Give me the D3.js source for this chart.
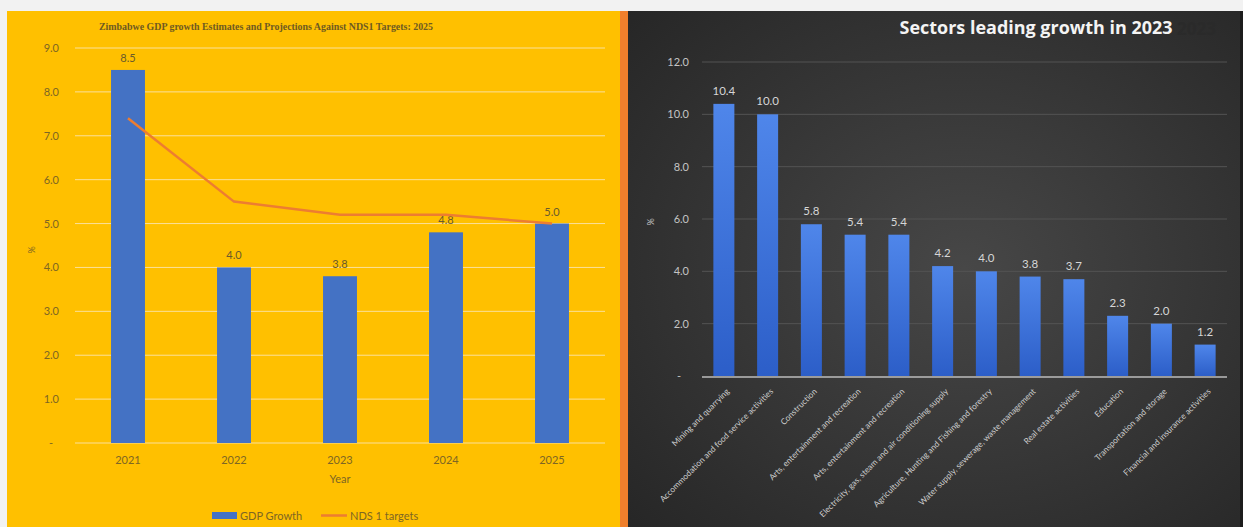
<!DOCTYPE html>
<html>
<head>
<meta charset="utf-8">
<script src="https://cdn.jsdelivr.net/npm/d3@7"></script>
<style>
  html, body { margin: 0; padding: 0; background: #f2f2f2; }
  svg { display: block; }
</style>
</head>
<body>
<div id="chart"></div>
<script>
// ---- data: left panel (GDP growth vs NDS1 targets) ----
const years      = ['2021', '2022', '2023', '2024', '2025'];
const gdpGrowth  = [8.5, 4.0, 3.8, 4.8, 5.0];
const ndsTargets = [7.4, 5.5, 5.2, 5.2, 5.0];
const leftTicks  = [0, 1, 2, 3, 4, 5, 6, 7, 8, 9];

// ---- data: right panel (sectors leading growth 2023) ----
const sectors = [
  'Mining and quarrying',
  'Accommodation and food service activities',
  'Construction',
  'Arts, entertainment and recreation',
  'Arts, entertainment and recreation ',
  'Electricity, gas, steam and air conditioning supply',
  'Agriculture, Hunting and Fishing and forestry',
  'Water supply, sewerage, waste management',
  'Real estate activities',
  'Education',
  'Transportation and storage',
  'Financial and insurance activities'
];
const sectorGrowth = [10.4, 10.0, 5.8, 5.4, 5.4, 4.2, 4.0, 3.8, 3.7, 2.3, 2.0, 1.2];
const rightTicks   = [0, 2, 4, 6, 8, 10, 12];

const W = 1243, H = 527;
const fmt = d => d === 0 ? '-' : d3.format('.1f')(d);

const svg = d3.select('#chart').append('svg')
  .attr('width', W).attr('height', H);

const defs = svg.append('defs');
const bg = defs.append('radialGradient').attr('id', 'darkbg')
  .attr('cx', '55%').attr('cy', '50%').attr('r', '75%');
bg.append('stop').attr('offset', '0%').attr('stop-color', '#474747');
bg.append('stop').attr('offset', '100%').attr('stop-color', '#262626');
const barGrad = defs.append('linearGradient').attr('id', 'bluebar')
  .attr('x1', 0).attr('y1', 0).attr('x2', 0).attr('y2', 1);
barGrad.append('stop').attr('offset', '0%').attr('stop-color', '#4f86ea');
barGrad.append('stop').attr('offset', '100%').attr('stop-color', '#2c5ec8');

// 1) panels
svg.append('rect').attr('x', 7).attr('y', 11).attr('width', 613).attr('height', H - 11)
  .attr('fill', '#FFC000');
svg.append('rect').attr('x', 620).attr('y', 11).attr('width', 8).attr('height', H - 11)
  .attr('fill', '#F07F2C');
svg.append('rect').attr('x', 628).attr('y', 11).attr('width', 612).attr('height', H - 11)
  .attr('fill', 'url(#darkbg)');
svg.append('rect').attr('x', 1240).attr('y', 11).attr('width', 3).attr('height', H - 11)
  .attr('fill', '#1c1c1c');

// ============ LEFT CHART ============
(function () {
  const ink = '#7d6624';
  const x = d3.scaleBand().domain(years).range([75, 605])
    .paddingInner(0.68).paddingOuter(0.34);
  const y = d3.scaleLinear().domain([0, 9]).range([443, 48]);
  const g = svg.append('g');

  // title
  g.append('text')
    .attr('x', 266).attr('y', 30)
    .attr('text-anchor', 'middle')
    .attr('textLength', 334).attr('lengthAdjust', 'spacingAndGlyphs')
    .style('font-family', '"Liberation Serif", serif')
    .style('font-weight', 'bold').style('font-size', '10.5px')
    .style('fill', '#6e5a22')
    .text('Zimbabwe GDP growth Estimates and Projections Against NDS1 Targets: 2025');

  // gridlines
  g.selectAll('line.grid').data(leftTicks).enter().append('line')
    .attr('x1', 75).attr('x2', 605)
    .attr('y1', d => y(d)).attr('y2', d => y(d))
    .attr('stroke', '#fbe09a').attr('stroke-width', 1);

  // y axis
  const ya = g.append('g').attr('transform', 'translate(59,0)')
    .call(d3.axisLeft(y).tickValues(leftTicks).tickFormat(fmt).tickSize(0).tickPadding(0));
  ya.select('.domain').remove();
  ya.selectAll('text')
    .style('font-family', 'Lato, sans-serif').style('font-size', '11px').style('fill', ink)
    .attr('dx', d => d === 0 ? -6 : 0);

  g.append('text')
    .attr('transform', 'translate(35,250) rotate(-90)')
    .attr('text-anchor', 'middle')
    .style('font-family', 'Lato, sans-serif').style('font-size', '9px').style('fill', ink)
    .text('%');

  // bars
  g.selectAll('rect.bar').data(years).enter().append('rect')
    .attr('x', d => x(d)).attr('width', x.bandwidth())
    .attr('y', (d, i) => y(gdpGrowth[i]))
    .attr('height', (d, i) => y(0) - y(gdpGrowth[i]))
    .attr('fill', '#4472C4');

  // bar labels
  g.selectAll('text.val').data(years).enter().append('text')
    .attr('x', d => x(d) + x.bandwidth() / 2)
    .attr('y', (d, i) => y(gdpGrowth[i]) - 8)
    .attr('text-anchor', 'middle')
    .style('font-family', 'Lato, sans-serif').style('font-size', '11px').style('fill', '#6a5a2c')
    .text((d, i) => gdpGrowth[i].toFixed(1));

  // target line
  const line = d3.line()
    .x((d, i) => x(years[i]) + x.bandwidth() / 2)
    .y(d => y(d));
  g.append('path').datum(ndsTargets)
    .attr('d', line).attr('fill', 'none')
    .attr('stroke', '#ED7D31').attr('stroke-width', 2.5);

  // x axis
  const xa = g.append('g').attr('transform', 'translate(0,443)')
    .call(d3.axisBottom(x).tickSize(0).tickPadding(13));
  xa.select('.domain').remove();
  xa.selectAll('text')
    .style('font-family', 'Lato, sans-serif').style('font-size', '11px').style('fill', ink);

  g.append('text').attr('x', 340).attr('y', 483).attr('text-anchor', 'middle')
    .style('font-family', 'Lato, sans-serif').style('font-size', '11px').style('fill', ink)
    .text('Year');

  // legend
  const lg = g.append('g').style('font-family', 'Lato, sans-serif')
    .style('font-size', '11px').style('fill', ink);
  lg.append('rect').attr('x', 212).attr('y', 512).attr('width', 25).attr('height', 7).attr('fill', '#4472C4');
  lg.append('text').attr('x', 240).attr('y', 520).text('GDP Growth');
  lg.append('line').attr('x1', 321).attr('x2', 347).attr('y1', 515.5).attr('y2', 515.5)
    .attr('stroke', '#ED7D31').attr('stroke-width', 2.5);
  lg.append('text').attr('x', 350).attr('y', 520).text('NDS 1 targets');
})();

// ============ RIGHT CHART ============
(function () {
  const x = d3.scaleBand().domain(sectors).range([702, 1227])
    .paddingInner(0.52).paddingOuter(0.26);
  const y = d3.scaleLinear().domain([0, 12]).range([376, 62]);
  const g = svg.append('g');

  // title (with the faint duplicate year behind it)
  g.append('text').attr('x', 1216).attr('y', 35).attr('text-anchor', 'end')
    .style('font-family', '"Open Sans", sans-serif').style('font-weight', 'bold')
    .style('font-size', '17px').style('fill', '#2a2a2a').style('opacity', 0.7)
    .text('2023');
  g.append('text').attr('x', 1036).attr('y', 34).attr('text-anchor', 'middle')
    .attr('textLength', 273).attr('lengthAdjust', 'spacingAndGlyphs')
    .style('font-family', '"Open Sans", sans-serif').style('font-weight', 'bold')
    .style('font-size', '17px').style('fill', '#f4f4f4')
    .text('Sectors leading growth in 2023');

  // gridlines
  g.selectAll('line.grid').data(rightTicks.slice(1)).enter().append('line')
    .attr('x1', 702).attr('x2', 1227)
    .attr('y1', d => y(d)).attr('y2', d => y(d))
    .attr('stroke', '#535353').attr('stroke-width', 1);

  // y axis
  const ya = g.append('g').attr('transform', 'translate(689,0)')
    .call(d3.axisLeft(y).tickValues(rightTicks).tickFormat(fmt).tickSize(0).tickPadding(0));
  ya.select('.domain').remove();
  ya.selectAll('text')
    .style('font-family', 'Lato, sans-serif').style('font-size', '11px').style('fill', '#c4c4c4')
    .attr('dx', d => d === 0 ? -8 : 0);

  g.append('text')
    .attr('transform', 'translate(654,222) rotate(-90)')
    .attr('text-anchor', 'middle')
    .style('font-family', 'Lato, sans-serif').style('font-size', '9px').style('fill', '#c4c4c4')
    .text('%');

  // bars
  g.selectAll('rect.bar').data(sectors).enter().append('rect')
    .attr('x', d => x(d)).attr('width', x.bandwidth())
    .attr('y', (d, i) => y(sectorGrowth[i]))
    .attr('height', (d, i) => y(0) - y(sectorGrowth[i]))
    .attr('fill', 'url(#bluebar)');

  g.selectAll('text.val').data(sectors).enter().append('text')
    .attr('x', d => x(d) + x.bandwidth() / 2)
    .attr('y', (d, i) => y(sectorGrowth[i]) - 9)
    .attr('text-anchor', 'middle')
    .style('font-family', 'Lato, sans-serif').style('font-size', '11.5px').style('fill', '#d6d6d6')
    .text((d, i) => sectorGrowth[i].toFixed(1));

  // baseline
  g.append('line').attr('x1', 702).attr('x2', 1227)
    .attr('y1', 377).attr('y2', 377)
    .attr('stroke', '#bdbdbd').attr('stroke-width', 1.5);

  // category labels
  const xa = g.append('g').attr('transform', 'translate(0,377)')
    .call(d3.axisBottom(x).tickSize(0).tickPadding(0));
  xa.select('.domain').remove();
  xa.selectAll('text')
    .attr('text-anchor', 'end')
    .attr('transform', 'translate(4,13) rotate(-45)')
    .attr('dy', '0.35em')
    .style('font-family', 'Lato, sans-serif').style('font-size', '8.3px').style('fill', '#cfcfcf');
})();
</script>
</body>
</html>
